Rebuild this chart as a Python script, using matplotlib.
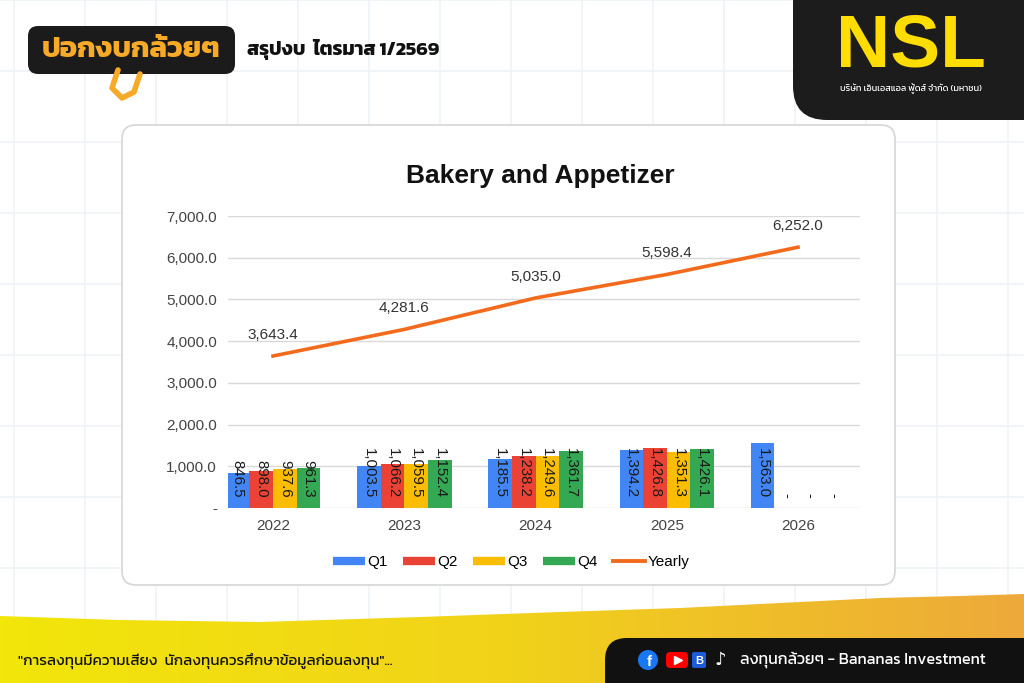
import numpy as np
import matplotlib
matplotlib.use("Agg")
import matplotlib.pyplot as plt
from matplotlib.patches import FancyBboxPatch, Polygon, Circle
from matplotlib.lines import Line2D
from matplotlib.colors import LinearSegmentedColormap

# data
years = ['2022', '2023', '2024', '2025', '2026']
q1 = [846.5, 1003.5, 1185.5, 1394.2, 1563.0]
q2 = [898.0, 1066.2, 1238.2, 1426.8, np.nan]
q3 = [937.6, 1059.5, 1249.6, 1351.3, np.nan]
q4 = [961.3, 1152.4, 1361.7, 1426.1, np.nan]
yearly = [3643.4, 4281.6, 5035.0, 5598.4, 6252.0]
quarters = ['Q1', 'Q2', 'Q3', 'Q4']
q_colors = ['#4285f4', '#ea4335', '#fbbc04', '#34a853']
line_color = '#f26b1d'

thai = ['Kanit', 'IBM Plex Sans Thai', 'DejaVu Sans']
arial = ['Liberation Sans', 'DejaVu Sans']

W, H = 1024, 683
fig = plt.figure(figsize=(W / 100, H / 100), dpi=100)

# background layer in pixel coordinates
bg = fig.add_axes([0, 0, 1, 1], zorder=0)
bg.set_xlim(0, W)
bg.set_ylim(H, 0)
bg.axis('off')
for gx in np.arange(14, W, 71):
    bg.axvline(gx, color='#eff2f7', lw=1.2, zorder=0)
for gy in np.arange(0, H, 71):
    bg.axhline(gy, color='#eff2f7', lw=1.2, zorder=0)

# chart card
bg.add_patch(FancyBboxPatch((122, 125), 773, 460, boxstyle='round,pad=0,rounding_size=14',
                            fc='white', ec='#d6d6d6', lw=1.2, zorder=1))

# top-left logo + headline
bg.add_patch(FancyBboxPatch((28, 26), 207, 48, boxstyle='round,pad=0,rounding_size=10',
                            fc='#1b1b1b', ec='none', zorder=2))
bg.text(131, 50, 'ปอกงบกล้วยๆ', color='#f7a928', fontsize=21, fontweight='bold',
        family=thai, ha='center', va='center', zorder=3)
bg.plot([118, 112, 122, 134, 140], [70, 88, 98, 92, 74], color='#f7a928', lw=4,
        solid_capstyle='round', zorder=3)
bg.text(247, 50, 'สรุปงบ  ไตรมาส 1/2569', color='#111111', fontsize=14, fontweight='bold',
        family=thai, ha='left', va='center', zorder=3)

# top-right company panel
bg.add_patch(FancyBboxPatch((793, -60), 300, 180, boxstyle='round,pad=0,rounding_size=34',
                            fc='#1c1c1c', ec='none', zorder=2))
bg.text(911, 47, 'NSL', color='#ffdd00', fontsize=54, fontweight='bold',
        family=['Liberation Sans Narrow', 'Liberation Sans'], ha='center', va='center', zorder=3)
bg.text(911, 89, 'บริษัท เอ็นเอสแอล ฟู้ดส์ จำกัด (มหาชน)', color='white', fontsize=6.5,
        family=thai, ha='center', va='center', zorder=3)

# bottom yellow-orange band with torn edge
band = Polygon([(0, 616), (120, 620), (260, 622), (420, 617), (560, 612), (680, 608),
                (780, 603), (880, 598), (960, 596), (1024, 594), (1024, H), (0, H)],
               closed=True, fc='none', ec='none')
bg.add_patch(band)
grad = LinearSegmentedColormap.from_list('band', ['#f2e60a', '#f1d21a', '#eda93a'])
im = bg.imshow(np.linspace(0, 1, 256)[None, :], cmap=grad, aspect='auto',
               extent=(0, W, H, 590), zorder=1)
im.set_clip_path(band)
bg.text(18, 661, '"การลงทุนมีความเสี่ยง  นักลงทุนควรศึกษาข้อมูลก่อนลงทุน"...', color='#111111',
        fontsize=11, family=thai, ha='left', va='center', zorder=3)

bg.add_patch(FancyBboxPatch((605, 638), 500, 100, boxstyle='round,pad=0,rounding_size=22',
                            fc='#111111', ec='none', zorder=2))
bg.add_patch(Circle((648, 660), 10, fc='#1877f2', ec='none', zorder=3))
bg.text(649, 662, 'f', color='white', fontsize=11, fontweight='bold', family=arial,
        ha='center', va='center', zorder=4)
bg.add_patch(FancyBboxPatch((666, 652), 22, 16, boxstyle='round,pad=0,rounding_size=4',
                            fc='#ff0000', ec='none', zorder=3))
bg.plot([678], [660], marker='>', ms=6, color='white', zorder=4)
bg.add_patch(FancyBboxPatch((692, 652), 14, 16, boxstyle='round,pad=0,rounding_size=2',
                            fc='#1e5bd8', ec='none', zorder=3))
bg.text(699, 661, 'B', color='white', fontsize=8, fontweight='bold', family=arial,
        ha='center', va='center', zorder=4)
bg.text(720, 660, '♪', color='white', fontsize=13, family=['DejaVu Sans'],
        ha='center', va='center', zorder=4)
bg.text(740, 660, 'ลงทุนกล้วยๆ - Bananas Investment', color='white', fontsize=11.5,
        family=thai, ha='left', va='center', zorder=3)

# chart axes
left, right, top, bottom = 228, 860, 216, 508
ax = fig.add_axes([left / W, 1 - bottom / H, (right - left) / W, (bottom - top) / H], zorder=2)
ax.patch.set_alpha(0)
x = np.arange(len(years))
width = 0.18
offsets = [-0.27, -0.09, 0.09, 0.27]
for vals, off, col in zip([q1, q2, q3, q4], offsets, q_colors):
    ax.bar(x + off, np.nan_to_num(vals), width, color=col, zorder=2)
    for xi, v in zip(x, vals):
        lab = '-' if np.isnan(v) else f'{v:,.1f}'
        ax.annotate(lab, (xi + off, 0), xytext=(0, 10), textcoords='offset pixels',
                    rotation=270, ha='center', va='bottom', fontsize=10.8,
                    color='#1a1a1a', family=arial, zorder=3)

ax.plot(x, yearly, color=line_color, lw=2.6, zorder=4)
for xi, v in zip(x, yearly):
    ax.annotate(f'{v:,.1f}', (xi, v), xytext=(0, 14), textcoords='offset pixels',
                ha='center', va='bottom', fontsize=11, color='#333333', family=arial)

ax.set_xlim(-45 / 131.25, 4 + 62 / 131.25)
ax.set_ylim(0, 7000)
yt = np.arange(0, 7001, 1000)
ax.set_yticks(yt)
ax.set_yticklabels(['-' if t == 0 else f'{t:,.1f}' for t in yt], family=arial,
                   fontsize=11, color='#444444')
ax.set_xticks(x)
ax.set_xticklabels(years, family=arial, fontsize=11, color='#444444')
ax.tick_params(axis='both', length=0)
ax.tick_params(axis='y', pad=8)
ax.tick_params(axis='x', pad=8)
ax.grid(axis='y', color='#d9d9d9', lw=1, zorder=0)
for s in ax.spines.values():
    s.set_visible(False)

fig.text(540 / W, 1 - 176 / H, 'Bakery and Appetizer', ha='center', va='center',
         fontsize=19, fontweight='bold', family=arial, color='#111111', zorder=5)

handles = [Line2D([], [], color=c, lw=6, solid_capstyle='butt') for c in q_colors]
handles.append(Line2D([], [], color=line_color, lw=2.8))
fig.legend(handles, quarters + ['Yearly'], loc='center', bbox_to_anchor=(511 / W, 1 - 562 / H),
           ncol=5, frameon=False, handlelength=2.1, handletextpad=0.15, columnspacing=1.0,
           prop={'family': arial, 'size': 11})

fig.savefig('out.png', dpi=100)
